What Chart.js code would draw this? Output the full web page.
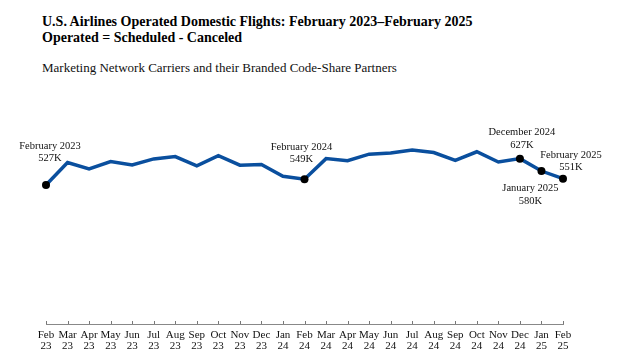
<!DOCTYPE html>
<html>
<head>
<meta charset="utf-8">
<script src="https://cdn.jsdelivr.net/npm/chart.js@4.4.1/dist/chart.umd.min.js"></script>
<style>
  html, body { margin: 0; padding: 0; background: #fff; }
  #wrap { position: relative; width: 620px; height: 362px; overflow: hidden; }
  #chart { position: absolute; left: 0; top: 0; }
  .title {
    position: absolute; left: 42px; top: 14px;
    font-family: 'Liberation Serif', 'Times New Roman', serif;
    font-weight: bold; font-size: 14px; line-height: 16px; color: #000;
    white-space: nowrap;
  }
  .subtitle {
    position: absolute; left: 42px; top: 60px;
    font-family: 'Liberation Serif', 'Times New Roman', serif;
    font-size: 13px; line-height: 16px; color: #111;
    white-space: nowrap;
  }
</style>
</head>
<body>
<div id="wrap">
  <div class="title">U.S. Airlines Operated Domestic Flights: February 2023–February 2025<br>Operated = Scheduled - Canceled</div>
  <div class="subtitle">Marketing Network Carriers and their Branded Code-Share Partners</div>
  <canvas id="chart" width="620" height="362"></canvas>
</div>
<script>
// Monthly operated flights, thousands
const months = ['Feb', 'Mar', 'Apr', 'May', 'Jun', 'Jul', 'Aug', 'Sep', 'Oct', 'Nov', 'Dec', 'Jan',
                'Feb', 'Mar', 'Apr', 'May', 'Jun', 'Jul', 'Aug', 'Sep', 'Oct', 'Nov', 'Dec', 'Jan', 'Feb'];
const years = ['23', '23', '23', '23', '23', '23', '23', '23', '23', '23', '23', '24',
               '24', '24', '24', '24', '24', '24', '24', '24', '24', '24', '24', '25', '25'];
const operatedFlights = [527, 612, 588, 616, 603, 626, 635, 600, 638, 602, 605, 560,
                         549, 627, 619, 644, 648, 660, 650, 620, 653, 614, 627, 580, 551];

// Labelled points
const calloutIndex = [0, 12, 22, 23, 24];
const calloutTitle = ['February 2023', 'February 2024', 'December 2024', 'January 2025', 'February 2025'];

const SERIF = "'Liberation Serif', 'Times New Roman', serif";

// text offsets from each labelled point: [dx, dy line 1, dy line 2]
const calloutOffsets = [
  [4, -39, -27],
  [-3, -32, -20],
  [2, -26, -13],
  [-11, 17, 30],
  [8, -23, -11]
];

const labels = months.map((m, i) => [m, years[i]]);

const callouts = {
  id: 'callouts',
  afterDatasetsDraw(chart) {
    const ctx = chart.ctx;
    const meta = chart.getDatasetMeta(0);
    ctx.save();
    ctx.fillStyle = '#111';
    ctx.font = '10.5px ' + SERIF;
    ctx.textAlign = 'center';
    ctx.textBaseline = 'middle';
    calloutIndex.forEach((idx, k) => {
      const pt = meta.data[idx];
      const off = calloutOffsets[k];
      ctx.fillText(calloutTitle[k], pt.x + off[0], pt.y + off[1]);
      ctx.fillText(operatedFlights[idx] + 'K', pt.x + off[0], pt.y + off[2]);
    });
    ctx.restore();
  }
};

// small tick marks pointing up from the x axis
const upTicks = {
  id: 'upTicks',
  afterDraw(chart) {
    const ctx = chart.ctx;
    const xs = chart.scales.x;
    const y0 = chart.chartArea.bottom;
    ctx.save();
    ctx.strokeStyle = '#777';
    ctx.lineWidth = 1;
    ctx.beginPath();
    xs.ticks.forEach((t, i) => {
      const x = Math.round(xs.getPixelForTick(i)) + 0.5;
      ctx.moveTo(x, y0 - 3);
      ctx.lineTo(x, y0);
    });
    ctx.stroke();
    ctx.restore();
  }
};

new Chart(document.getElementById('chart'), {
  type: 'line',
  data: {
    labels: labels,
    datasets: [{
      data: operatedFlights,
      borderColor: '#0a4f9e',
      borderWidth: 3.5,
      tension: 0,
      borderJoinStyle: 'miter',
      pointRadius: operatedFlights.map((v, i) => calloutIndex.includes(i) ? 4 : 0),
      pointBackgroundColor: '#000',
      pointBorderWidth: 0,
      clip: false
    }]
  },
  options: {
    responsive: false,
    animation: false,
    events: [],
    layout: { padding: { left: 46, right: 57, top: 113, bottom: 8 } },
    plugins: {
      legend: { display: false },
      tooltip: { enabled: false }
    },
    scales: {
      x: {
        offset: false,
        grid: { display: false, drawTicks: false },
        border: { display: true, color: '#888', width: 1 },
        afterFit: (scale) => { scale.height = 30; },
        ticks: {
          autoSkip: false,
          maxRotation: 0,
          padding: 5,
          color: '#111',
          font: { family: SERIF, size: 11, lineHeight: 1.05 }
        }
      },
      y: {
        display: false,
        min: 0,
        max: 800
      }
    }
  },
  plugins: [callouts, upTicks]
});
</script>
</body>
</html>
